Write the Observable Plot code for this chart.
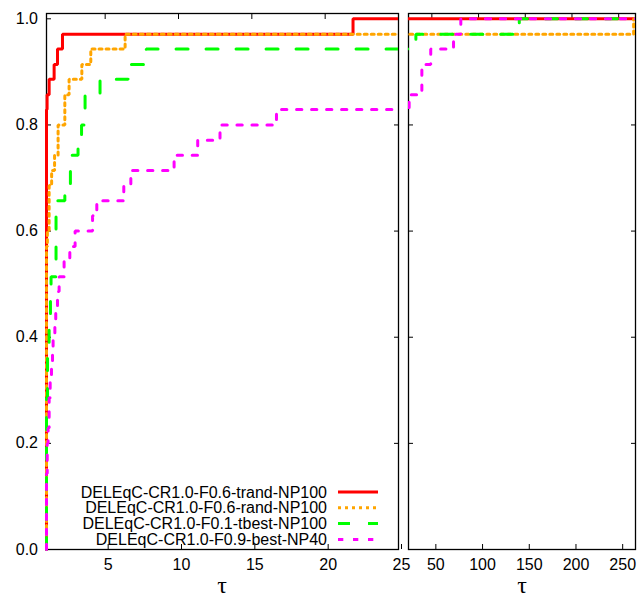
<!DOCTYPE html>
<html>
<head>
<meta charset="utf-8">
<script src="https://cdn.jsdelivr.net/npm/d3@7"></script>
<script src="https://cdn.jsdelivr.net/npm/@observablehq/plot@0.6"></script>
<style>
html, body { margin: 0; padding: 0; background: #fff; }
#chart { position: relative; width: 643px; height: 597px; overflow: hidden;
  font-family: "Liberation Sans", Arial, Helvetica, sans-serif; }
#chart svg { position: absolute; top: 0; }
.tau { position: absolute; top: 578px; width: 40px; margin-left: -20px; text-align: center;
  font-family: "Liberation Serif", "DejaVu Serif", serif; font-size: 24px; line-height: 14px; }
</style>
</head>
<body>
<div id="chart"></div>
<script>
// ---- data (performance profiles, fraction of 35 problems) ----
const seriesNames = [
  "DELEqC-CR1.0-F0.6-trand-NP100",
  "DELEqC-CR1.0-F0.6-rand-NP100",
  "DELEqC-CR1.0-F0.1-tbest-NP100",
  "DELEqC-CR1.0-F0.9-best-NP40"
];
const seriesColors = ["#ff0000", "#ffa500", "#00ff00", "#ff00ff"];

const trandTau = [1, 1, 1.04, 1.18, 1.52, 1.75, 2.09, 21.9, 268];
const trandRho = [0, 0.829, 0.857, 0.886, 0.914, 0.943, 0.971, 1.0, 1.0];

const randTau = [1, 1, 1.06, 1.18, 1.35, 1.55, 1.79, 2.25, 2.54, 3.41, 4.02, 6.36, 266, 268];
const randRho = [0, 0.571, 0.6, 0.686, 0.714, 0.743, 0.8, 0.857, 0.886, 0.914, 0.943, 0.971, 1.0, 1.0];

const tbestTau = [1, 1, 1.07, 1.18, 1.27, 1.31, 1.65, 2.25, 2.63, 3.15, 3.39, 3.63, 4.65, 6.57, 7.8, 32.9, 143.6, 268];
const tbestRho = [0, 0.286, 0.371, 0.429, 0.486, 0.514, 0.657, 0.686, 0.743, 0.771, 0.8, 0.857, 0.886, 0.914, 0.943, 0.971, 1.0, 1.0];

const bestTau = [1, 1, 1.05, 1.11, 1.18, 1.25, 1.34, 1.41, 1.45, 1.57, 1.63, 1.75, 1.86, 2.2, 2.59, 2.95, 4.14, 4.43, 6.27, 6.75, 9.7, 11.31, 12.83, 16.68, 25.7, 39.3, 48.8, 73.2, 81, 268];
const bestRho = [0, 0.143, 0.2, 0.229, 0.286, 0.314, 0.343, 0.371, 0.4, 0.429, 0.457, 0.486, 0.514, 0.543, 0.571, 0.6, 0.629, 0.657, 0.686, 0.714, 0.743, 0.771, 0.8, 0.829, 0.857, 0.914, 0.943, 0.971, 1.0, 1.0];

const leftTicksX = [5, 10, 15, 20, 25];
const rightTicksX = [50, 100, 150, 200, 250];
const ticksY = [0, 0.2, 0.4, 0.6, 0.8, 1.0];
const axisLabel = "τ";

// ---- build ----
const rows = (tau, rho) => tau.map((t, i) => ({tau: t, rho: rho[i]}));
const series = [
  {name: seriesNames[0], color: seriesColors[0], data: rows(trandTau, trandRho), dash: null},
  {name: seriesNames[1], color: seriesColors[1], data: rows(randTau, randRho), dash: "3,4"},
  {name: seriesNames[2], color: seriesColors[2], data: rows(tbestTau, tbestRho), dash: "12,18"},
  {name: seriesNames[3], color: seriesColors[3], data: rows(bestTau, bestRho), dash: "5.3,9.7"}
];

const font = '"Liberation Sans", Arial, Helvetica, sans-serif';
const blank = () => "";

function panel({width, marginLeft, marginRight, domain, xticks, yLabels, labelDx}) {
  return Plot.plot({
    width, height: 597,
    marginLeft, marginRight, marginTop: 13, marginBottom: 48,
    style: {fontFamily: font, fontSize: "16px", background: "transparent", overflow: "visible", color: "black"},
    x: {type: "linear", domain},
    y: {type: "linear", domain: [0, 1.01]},
    marks: [
      Plot.frame({stroke: "black", strokeWidth: 1.3}),
      Plot.axisX({ticks: xticks, anchor: "bottom", tickSize: -5, tickPadding: 14, dx: labelDx, label: null, fill: "black", stroke: "black"}),
      Plot.axisX({ticks: xticks, anchor: "top", tickSize: -5, tickFormat: blank, label: null, stroke: "black"}),
      Plot.axisY({ticks: ticksY, anchor: "left", tickSize: -5, tickPadding: 13.5, tickFormat: yLabels ? d3.format(".1f") : blank, label: null, fill: "black", stroke: "black"}),
      Plot.axisY({ticks: ticksY, anchor: "right", tickSize: -5, tickFormat: blank, label: null, stroke: "black"}),
      ...series.map(s => Plot.line(s.data, {
        x: "tau", y: "rho", curve: "step-after", stroke: s.color, strokeWidth: 3,
        strokeDasharray: s.dash, strokeLinejoin: "miter", clip: true
      }))
    ]
  });
}

// let the thick lines straddle the left and bottom frame edges, as in the original
function widenClip(svg, padLeft, padBottom) {
  svg.querySelectorAll("clipPath rect").forEach(r => {
    const x = +r.getAttribute("x"), w = +r.getAttribute("width"), h = +r.getAttribute("height");
    r.setAttribute("x", x - padLeft);
    r.setAttribute("width", w + padLeft);
    r.setAttribute("height", h + padBottom);
  });
}

const chart = document.getElementById("chart");

const left = panel({width: 410, marginLeft: 46, marginRight: 12, domain: [1, 25], xticks: leftTicksX, yLabels: true, labelDx: 3});
left.style.left = "0px";
widenClip(left, 3, 2);
chart.appendChild(left);

const right = panel({width: 243, marginLeft: 8, marginRight: 8, domain: [25, 268], xticks: rightTicksX, yLabels: false, labelDx: 4});
right.style.left = "400px";
widenClip(right, 0, 2);
chart.appendChild(right);

// legend
const legend = d3.create("svg")
  .attr("width", 643).attr("height", 597)
  .style("left", "0px").style("pointer-events", "none")
  .style("font-family", font).style("font-size", "16px");
series.forEach((s, i) => {
  const cy = 492 + i * 15.8;
  legend.append("text").attr("x", 327).attr("y", cy).attr("dy", "0.35em")
    .attr("text-anchor", "end").attr("fill", "black").text(s.name);
  legend.append("line").attr("x1", 338).attr("x2", 378).attr("y1", cy).attr("y2", cy)
    .attr("stroke", s.color).attr("stroke-width", 3)
    .attr("stroke-dasharray", s.dash);
});
chart.appendChild(legend.node());

// axis titles
[222, 522].forEach(cx => {
  const d = document.createElement("div");
  d.className = "tau";
  d.style.left = cx + "px";
  d.textContent = axisLabel;
  chart.appendChild(d);
});
</script>
</body>
</html>
